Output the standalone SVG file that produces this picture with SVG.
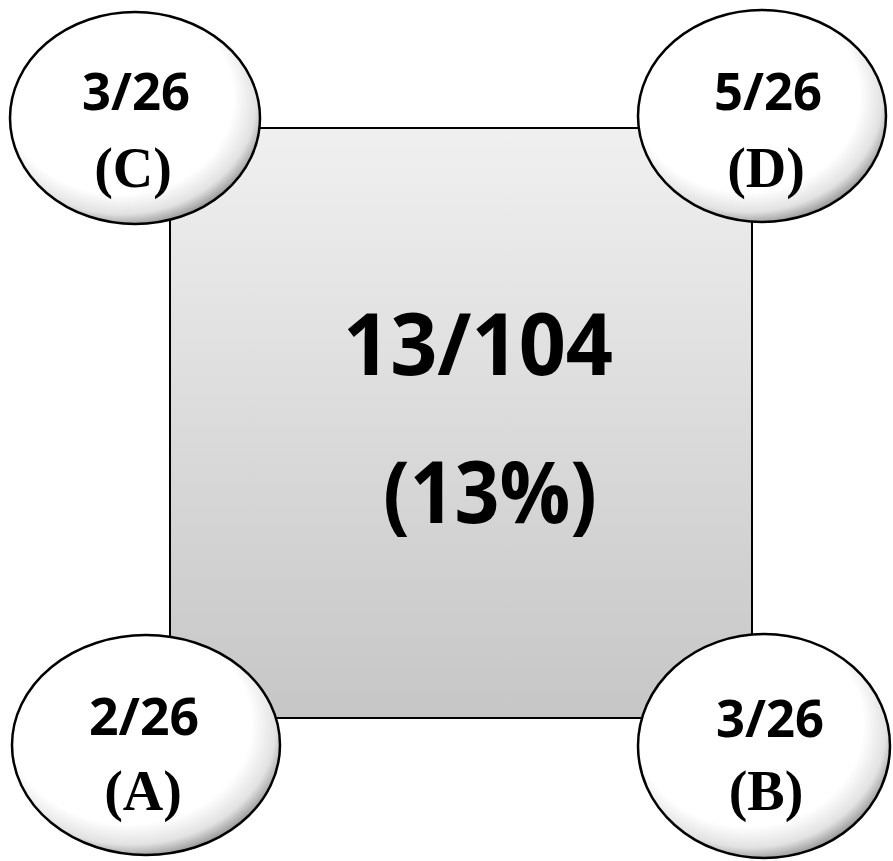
<svg xmlns="http://www.w3.org/2000/svg" width="893" height="861" viewBox="0 0 893 861">
<defs>
<linearGradient id="sq" x1="0" y1="0" x2="0" y2="1">
<stop offset="0" stop-color="#f0f0f0"/>
<stop offset="1" stop-color="#c6c6c6"/>
</linearGradient>
<radialGradient id="ov" cx="0.45" cy="0.42" r="0.6" fx="0.4" fy="0.35">
<stop offset="0" stop-color="#ffffff"/>
<stop offset="0.76" stop-color="#ffffff"/>
<stop offset="0.9" stop-color="#e2e2e2"/>
<stop offset="1" stop-color="#8f8f8f"/>
</radialGradient>
<style>
.ov{fill:url(#ov);stroke:#000;stroke-width:2.5}
.num{font-family:"Open Sans","Noto Sans",sans-serif;font-weight:700;text-anchor:middle;fill:#000}
.let{font-family:"Liberation Serif","Times New Roman",serif;font-weight:700;text-anchor:middle;fill:#000}
</style>
</defs>
<g id="center">
<rect x="170" y="128" width="582" height="590" fill="url(#sq)" stroke="#000" stroke-width="2"/>
<text class="num" x="478" y="375" font-size="86" textLength="270" lengthAdjust="spacingAndGlyphs">13/104</text>
<text class="num" x="490" y="523" font-size="86" textLength="214" lengthAdjust="spacingAndGlyphs">(13%)</text>
</g>
<g id="connectors"></g>
<g id="nodeC">
<ellipse class="ov" cx="135" cy="118" rx="125" ry="106"/>
<text class="num" x="136" y="110" font-size="52" textLength="108" lengthAdjust="spacingAndGlyphs">3/26</text>
<text class="let" x="133" y="187" font-size="56">(C)</text>
</g>
<g id="nodeD">
<ellipse class="ov" cx="762" cy="116" rx="124" ry="106"/>
<text class="num" x="768" y="110" font-size="52" textLength="108" lengthAdjust="spacingAndGlyphs">5/26</text>
<text class="let" x="766" y="187" font-size="56">(D)</text>
</g>
<g id="nodeA">
<ellipse class="ov" cx="146" cy="745" rx="134" ry="110"/>
<text class="num" x="144" y="735" font-size="52" textLength="110" lengthAdjust="spacingAndGlyphs">2/26</text>
<text class="let" x="143" y="810" font-size="56">(A)</text>
</g>
<g id="nodeB">
<ellipse class="ov" cx="764" cy="746" rx="126" ry="112"/>
<text class="num" x="770" y="737" font-size="52" textLength="108" lengthAdjust="spacingAndGlyphs">3/26</text>
<text class="let" x="766" y="810" font-size="56">(B)</text>
</g>
</svg>
